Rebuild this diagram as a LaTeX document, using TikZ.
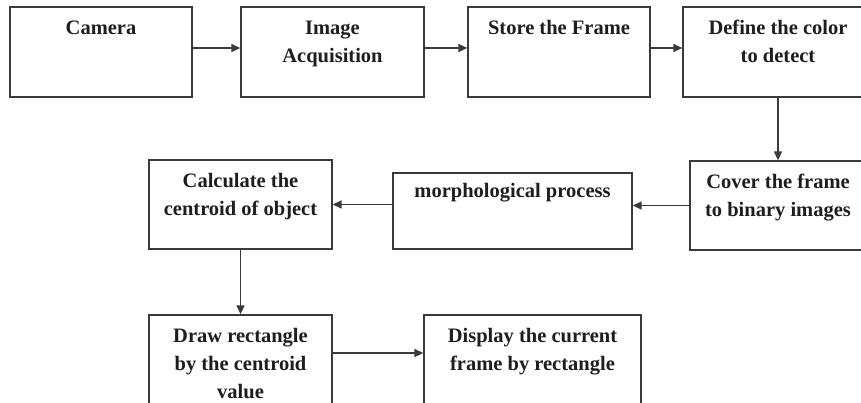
\documentclass[tikz,border=0pt]{standalone}
\usepackage{fontspec}
\setmainfont{Liberation Serif}
\usetikzlibrary{arrows.meta}
\definecolor{boxgray}{HTML}{3A3A3A}
\definecolor{txtgray}{HTML}{1E1E1E}
\newcommand\bxtxt[1]{\parbox[t]{230pt}{\centering\strut #1}}
\begin{document}
\begin{tikzpicture}[x=1pt,y=-1pt,
  box/.style={draw=boxgray, line width=1.3pt, minimum height=90pt, inner sep=0pt, fill=white},
  lbl/.style={anchor=north, yshift=-8.4pt, inner sep=0pt,
    font=\bfseries\fontsize{20.5}{28}\selectfont, text=txtgray},
  arr/.style={draw=boxgray, line width=1.4pt, -{Triangle[length=9pt,width=8pt]}}]
\clip (0,0) rectangle (861,403);
\node[box, minimum width=182pt, label={[lbl]north:\bxtxt{Camera}}] (cam) at (101,52) {};
\node[box, minimum width=183pt, label={[lbl]north:\bxtxt{Image\\Acquisition}}] (acq) at (332.5,52) {};
\node[box, minimum width=182pt, label={[lbl]north:\bxtxt{Store the Frame}}] (store) at (559,52) {};
\node[box, minimum width=190pt, label={[lbl]north:\bxtxt{Define the color\\to detect}}] (def) at (778,52) {};
\node[box, minimum width=176pt, minimum height=89pt, label={[lbl]north:\bxtxt{Cover the frame\\to binary images}}] (cover) at (778,205.5) {};
\node[box, minimum width=239pt, minimum height=76pt, label={[lbl,yshift=3pt]north:\bxtxt{morphological process}}] (morph) at (512.5,211) {};
\node[box, minimum width=183pt, minimum height=89pt, label={[lbl]north:\bxtxt{Calculate the\\centroid of object}}] (calc) at (240.5,204.5) {};
\node[box, minimum width=183pt, label={[lbl]north:\bxtxt{Draw rectangle\\by the centroid\\value}}] (drw) at (240.5,360) {};
\node[box, minimum width=217pt, label={[lbl]north:\bxtxt{Display the current\\frame by rectangle}}] (disp) at (532.5,360) {};
\draw[arr] ([yshift=4pt]cam.east) -- ([yshift=4pt]acq.west);
\draw[arr] ([yshift=4pt]acq.east) -- ([yshift=4pt]store.west);
\draw[arr] ([yshift=4pt]store.east) -- ([yshift=4pt]def.west);
\draw[arr] (def.south) -- (cover.north);
\draw[arr] (cover.west) -- (cover.west -| morph.east);
\draw[arr] (morph.west |- calc.east) -- (calc.east);
\draw[arr] (calc.south) -- (drw.north);
\draw[arr] ([yshift=7pt]drw.east) -- ([yshift=7pt]disp.west);
\end{tikzpicture}
\end{document}
